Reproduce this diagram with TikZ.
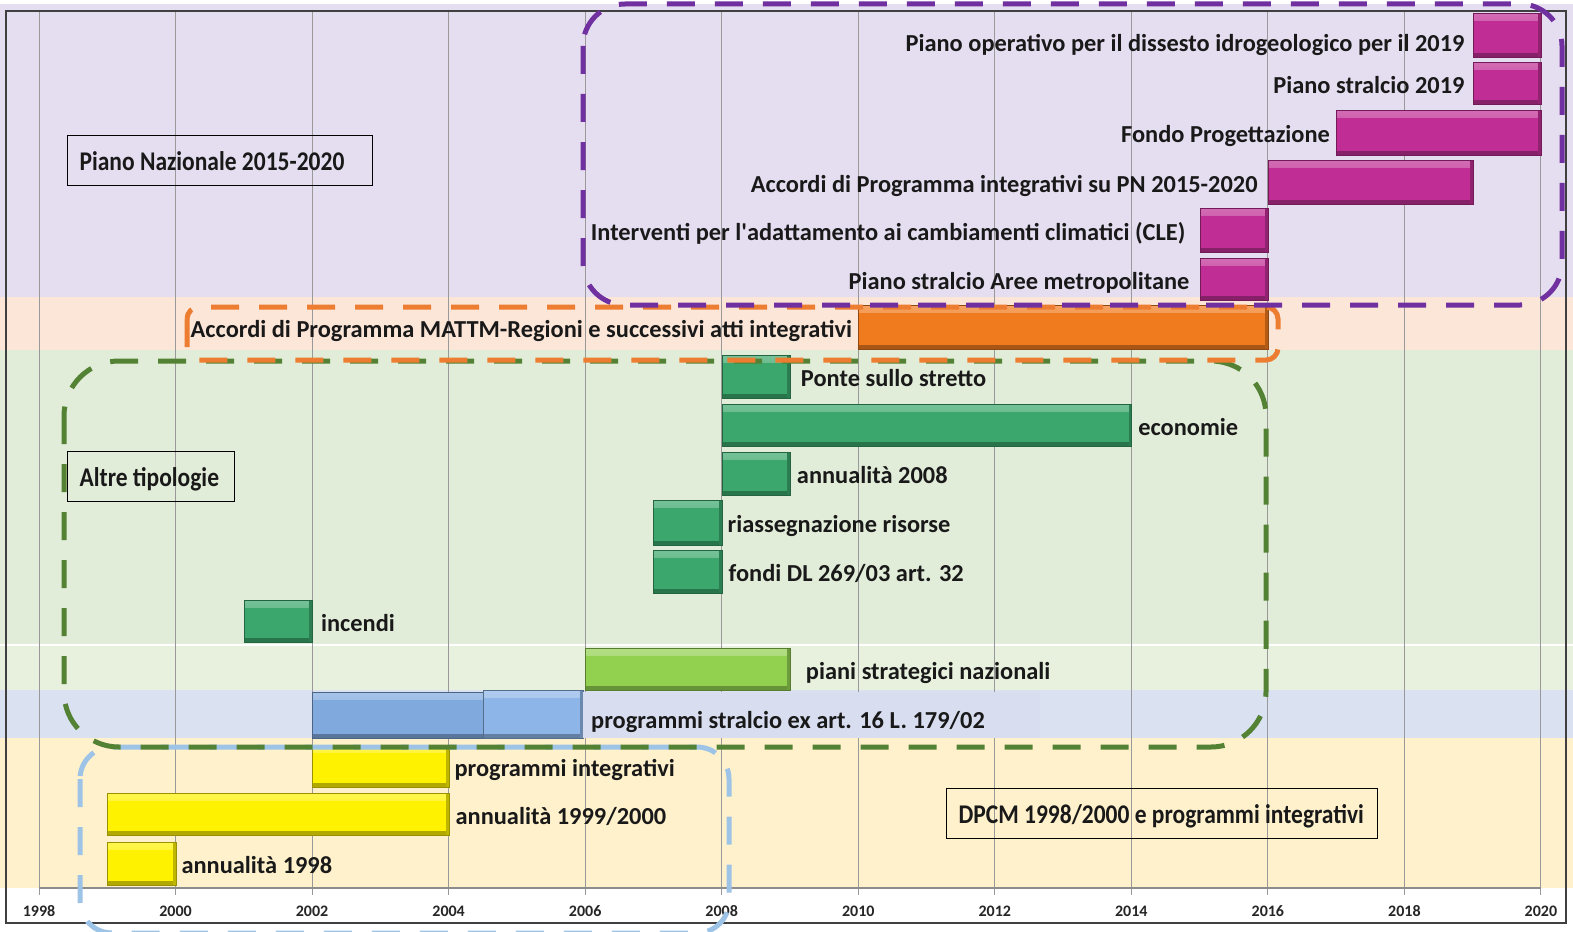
\documentclass[tikz,border=0pt]{standalone}
\usepackage{fontspec}
\setmainfont{Carlito}
\newfontfamily\legfont{Carlito}[FakeStretch=0.87]
\usetikzlibrary{positioning}
\definecolor{bgpur}{HTML}{E5DDF0}
\definecolor{bgora}{HTML}{FCE6D8}
\definecolor{bggre}{HTML}{E2EDD9}
\definecolor{bggrb}{HTML}{E7F1DE}
\definecolor{bgblu}{HTML}{DAE2F2}
\definecolor{bgyel}{HTML}{FFF1CC}
\definecolor{cmag}{HTML}{C02D94}
\definecolor{cora}{HTML}{F07A1E}
\definecolor{cgre}{HTML}{3BA76C}
\definecolor{clgr}{HTML}{92D050}
\definecolor{cblu}{HTML}{80A9DE}
\definecolor{cblv}{HTML}{8EB5E8}
\definecolor{cyel}{HTML}{FFF200}
\definecolor{dpur}{HTML}{7030A0}
\definecolor{dora}{HTML}{ED7D31}
\definecolor{dgre}{HTML}{548235}
\definecolor{dblu}{HTML}{9DC3E6}
\definecolor{lblbg}{HTML}{D8DEF0}
\begin{document}
\begin{tikzpicture}[x=1pt,y=-1pt,
  bar/.style={fill=#1, draw=#1!60!black, line width=0.8pt, inner sep=0pt, anchor=north west,
    path picture={
      \shade[top color=#1!70!white, bottom color=#1] (path picture bounding box.north west) rectangle ([yshift=-7pt]path picture bounding box.north east);
      \fill[#1!70!black] (path picture bounding box.south west) rectangle ([yshift=4pt]path picture bounding box.south east);
      \fill[#1!75!black] (path picture bounding box.south east) rectangle ([xshift=-3pt]path picture bounding box.north east);
    }},
  lab/.style={font=\fontsize{24.4}{28}\selectfont\bfseries, text=black!90, inner sep=0pt},
  yrlab/.style={font=\fontsize{16}{20}\selectfont\bfseries, text=black!85, inner sep=0pt},
  legbox/.style={draw=black, line width=1.2pt, font=\legfont\fontsize{27}{30}\selectfont\bfseries, text=black!90,
    inner xsep=12pt, inner ysep=0pt, anchor=north west, minimum height=50pt, text height=21pt, text depth=2pt},
  dbox/.style={draw=#1, line width=5pt, dash pattern=on 28pt off 20pt},
  gridline/.style={draw=black!40, line width=1pt}
]
\useasboundingbox (0,0) rectangle (1573,931);
\clip (0,0) rectangle (1573,931);
\fill[white] (0,0) rectangle (1573,931);
% bands
\fill[bgpur] (0,4) rectangle (1573,297);
\fill[bgora] (0,297) rectangle (1573,350);
\fill[bggre] (0,350) rectangle (1573,644);
\fill[bggrb] (0,646) rectangle (1573,690);
\fill[bgblu] (0,690) rectangle (1573,738);
\fill[bgyel] (0,738) rectangle (1573,888);
% grid
\foreach \yy in {1998,2000,...,2020}{
  \draw[gridline] ({39+(\yy-1998)*68.27},11) -- ({39+(\yy-1998)*68.27},895);
  \node[yrlab] at ({39+(\yy-1998)*68.27},911) {\yy};
}
\draw[black!45, line width=1.2pt] (39,888) -- (1541,888);
\draw[black!75, line width=1.2pt] (6,11) rectangle (1566,923);
% magenta bars
\node[bar=cmag, minimum width={68.27}, minimum height=44] (m1) at ({39+(2019-1998)*68.27},13) {};
\node[bar=cmag, minimum width={68.27}, minimum height=42] (m2) at ({39+(2019-1998)*68.27},62) {};
\node[bar=cmag, minimum width={3*68.27}, minimum height=45] (m3) at ({39+(2017-1998)*68.27},110) {};
\node[bar=cmag, minimum width={3*68.27}, minimum height=44] (m4) at ({39+(2016-1998)*68.27},160) {};
\node[bar=cmag, minimum width={68.27}, minimum height=44] (m5) at ({39+(2015-1998)*68.27},208) {};
\node[bar=cmag, minimum width={68.27}, minimum height=42] (m6) at ({39+(2015-1998)*68.27},258) {};
% orange
\node[bar=cora, minimum width={6*68.27}, minimum height=44] (o1) at ({39+(2010-1998)*68.27},305) {};
% green
\node[bar=cgre, minimum width={68.27}, minimum height=43] (g1) at ({39+(2008-1998)*68.27},355) {};
\node[bar=cgre, minimum width={6*68.27}, minimum height=42] (g2) at ({39+(2008-1998)*68.27},404) {};
\node[bar=cgre, minimum width={68.27}, minimum height=43] (g3) at ({39+(2008-1998)*68.27},452) {};
\node[bar=cgre, minimum width={68.27}, minimum height=45] (g4) at ({39+(2007-1998)*68.27},500) {};
\node[bar=cgre, minimum width={68.27}, minimum height=43] (g5) at ({39+(2007-1998)*68.27},550) {};
\node[bar=cgre, minimum width={68.27}, minimum height=42] (g6) at ({39+(2001-1998)*68.27},600) {};
% light green
\node[bar=clgr, minimum width={3*68.27}, minimum height=42] (lg) at ({39+(2006-1998)*68.27},648) {};
% blue
\node[bar=cblu, minimum width=271, minimum height=46] (bl) at (312,692) {};
\node[bar=cblv, minimum width=100, minimum height=48] (blv) at (483,690) {};
% yellow
\node[bar=cyel, minimum width={2*68.27}, minimum height=42] (y1) at ({39+(2002-1998)*68.27},745) {};
\node[bar=cyel, minimum width={5*68.27}, minimum height=42] (y2) at ({39+(1999-1998)*68.27},793) {};
\node[bar=cyel, minimum width={68.27}, minimum height=43] (y3) at ({39+(1999-1998)*68.27},842) {};
% labels
\node[lab, anchor=base east] (lm1) at ([xshift=-8pt, yshift=-16pt]m1.west) {Piano operativo per il dissesto idrogeologico per il 2019};
\node[lab, anchor=base east] (lm2) at ([xshift=-8pt, yshift=-10pt]m2.west) {Piano stralcio 2019};
\node[lab, anchor=base east] (lm3) at ([xshift=-6pt, yshift=-10pt]m3.west) {Fondo Progettazione};
\node[lab, anchor=base east] (lm4) at ([xshift=-10pt, yshift=-10pt]m4.west) {Accordi di Programma integrativi su PN 2015-2020};
\node[lab, anchor=base east] (lm5) at ([xshift=-14pt, yshift=-10pt]m5.west) {Interventi per l\textquotesingle adattamento ai cambiamenti climatici (CLE)};
\node[lab, anchor=base east] (lm6) at ([xshift=-10pt, yshift=-10pt]m6.west) {Piano stralcio Aree metropolitane};
\node[lab, anchor=base east] (lo1) at ([xshift=-6pt, yshift=-10pt]o1.west) {Accordi di Programma MATTM-Regioni e successivi atti integrativi};
\node[lab, anchor=base west] (lg1) at ([xshift=10pt, yshift=-10pt]g1.east) {Ponte sullo stretto};
\node[lab, anchor=base west] (lg2) at ([xshift=6pt, yshift=-10pt]g2.east) {economie};
\node[lab, anchor=base west] (lg3) at ([xshift=6pt, yshift=-10pt]g3.east) {annualità 2008};
\node[lab, anchor=base west] (lg4) at ([xshift=5pt, yshift=-10pt]g4.east) {riassegnazione risorse};
\node[lab, anchor=base west] (lg5) at ([xshift=6pt, yshift=-10pt]g5.east) {fondi DL 269/03 art. 32};
\node[lab, anchor=base west] (lg6) at ([xshift=8pt, yshift=-10pt]g6.east) {incendi};
\node[lab, anchor=base west] (llg) at ([xshift=15pt, yshift=-10pt]lg.east) {piani strategici nazionali};
\node[fill=lblbg, anchor=north west, inner sep=0pt, minimum width=457pt, minimum height=46pt] (lbb) at (583,692) {};
\node[lab, anchor=base west] (lbl) at ([xshift=8pt, yshift=-13pt]lbb.west) {programmi stralcio ex art. 16 L. 179/02};
\node[lab, anchor=base west] (ly1) at ([xshift=5pt, yshift=-10pt]y1.east) {programmi integrativi};
\node[lab, anchor=base west] (ly2) at ([xshift=6pt, yshift=-10pt]y2.east) {annualità 1999/2000};
\node[lab, anchor=base west] (ly3) at ([xshift=5pt, yshift=-10pt]y3.east) {annualità 1998};
% legend boxes
\node[legbox] (pn) at (67,135) {\makebox[281pt][l]{Piano Nazionale 2015-2020}};
\node[legbox] (at) at (67,451) {\makebox[143pt][l]{Altre tipologie}};
\node[legbox] (dp) at (946,788) {\makebox[407pt][l]{DPCM 1998/2000 e programmi integrativi}};
% dashed groups
\draw[dbox=dblu, rounded corners=32pt] (80,747) rectangle (729,933);
\draw[dbox=dgre, rounded corners=55pt] (64,361) rectangle (1266,747);
\draw[dbox=dora, rounded corners=12pt] (187,307) rectangle (1278,360);
\draw[dbox=dpur, rounded corners=42pt] (583,4) rectangle (1562,305);
\end{tikzpicture}
\end{document}
